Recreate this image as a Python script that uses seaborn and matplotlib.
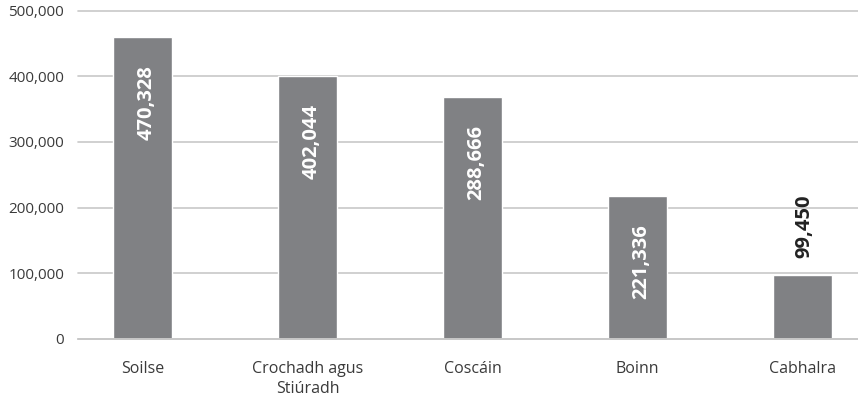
import matplotlib
matplotlib.use("Agg")
import matplotlib.pyplot as plt
import seaborn as sns
import pandas as pd
from matplotlib.ticker import FuncFormatter

categories = ["Soilse", "Crochadh agus\nStiúradh", "Coscáin", "Boinn", "Cabhalra"]
bar_heights = [460000, 400000, 368000, 217500, 97500]
value_labels = ["470,328", "402,044", "288,666", "221,336", "99,450"]
y_ticks = [0, 100000, 200000, 300000, 400000, 500000]

BAR_COLOR = "#808184"
TEXT_COLOR = "#3a3a3a"
GRID_COLOR = "#c8c8c8"

sns.set_theme(style="white")
plt.rcParams['font.family'] = ['Open Sans', 'DejaVu Sans']

df = pd.DataFrame({"category": categories, "value": bar_heights})

fig = plt.figure(figsize=(8.58, 4.01), dpi=100)
ax = fig.add_axes([78 / 858, 62 / 401, 780 / 858, 328.5 / 401])

sns.barplot(data=df, x="category", y="value", order=categories,
            color=BAR_COLOR, saturation=1, width=0.36, ax=ax)

ax.set_ylim(0, 500000)
ax.set_xlim(-0.39, 4.336)
ax.set_yticks(y_ticks)
ax.yaxis.set_major_formatter(FuncFormatter(lambda v, p: f"{v:,.0f}"))
ax.set_xlabel("")
ax.set_ylabel("")

ax.set_axisbelow(True)
ax.yaxis.grid(True, color=GRID_COLOR, linewidth=1.2)
ax.xaxis.grid(False)
for gl in ax.get_ygridlines():
    gl.set_clip_on(False)
ax.axhline(0, color=GRID_COLOR, linewidth=1.4, clip_on=False, zorder=3)
for s in ax.spines.values():
    s.set_visible(False)

ax.tick_params(axis="y", length=0, pad=10, labelsize=11, labelcolor=TEXT_COLOR)
ax.tick_params(axis="x", length=0, pad=16, labelsize=11.5, labelcolor=TEXT_COLOR)
for lbl in ax.get_xticklabels():
    lbl.set_linespacing(1.35)

# value labels: inside the bars except the last (short) one
for i, (h, txt) in enumerate(zip(bar_heights, value_labels)):
    if i < len(bar_heights) - 1:
        ax.annotate(txt, (i, h), xytext=(4, -28), textcoords="offset pixels",
                    rotation=90, ha="center", va="top", color="white",
                    fontsize=14.5, fontweight="bold")
    else:
        ax.annotate(txt, (i, h), xytext=(2, 17), textcoords="offset pixels",
                    rotation=90, ha="center", va="bottom", color="#222222",
                    fontsize=14.5, fontweight="bold")

fig.savefig("out.png", dpi=100)
plt.close(fig)
